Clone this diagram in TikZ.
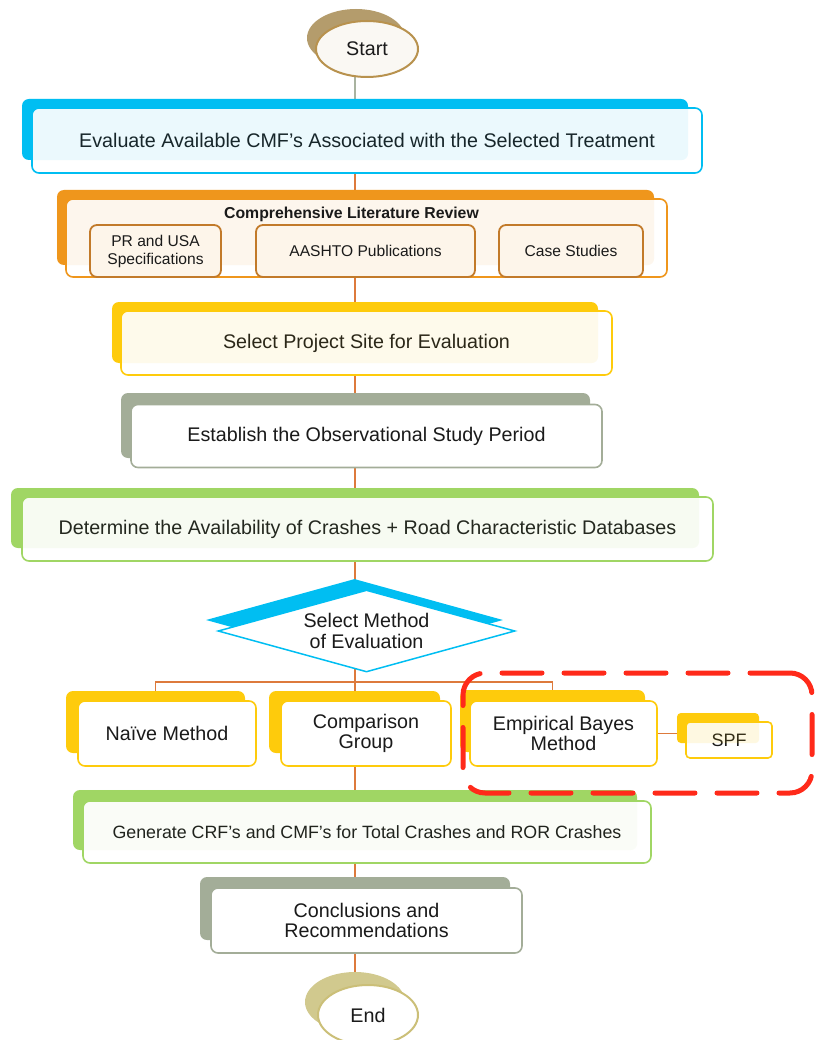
\documentclass[tikz,border=0pt]{standalone}
\usepackage{fontspec}
\setmainfont{Liberation Sans}
\usetikzlibrary{shapes.geometric}
\pgfdeclarelayer{bg}
\pgfsetlayers{bg,main}
\definecolor{cblue}{HTML}{00BEF2}
\definecolor{corange}{HTML}{EF961C}
\definecolor{cyellow}{HTML}{FECB0C}
\definecolor{cgray}{HTML}{A3AD98}
\definecolor{cgreen}{HTML}{A0D664}
\definecolor{ctan}{HTML}{B49C6C}
\definecolor{ctanline}{HTML}{B8924E}
\definecolor{startfill}{HTML}{FAF8F3}
\definecolor{colive}{HTML}{D1C98E}
\definecolor{coliveline}{HTML}{CBBF78}
\definecolor{cline}{HTML}{DD7A3C}
\definecolor{cgline}{HTML}{A9B3A0}
\definecolor{cbrown}{HTML}{C27A2A}
\definecolor{ccream}{HTML}{FDF5EA}
\definecolor{ctext}{HTML}{1A1A1A}
\definecolor{cred}{HTML}{FF2A1A}
\tikzset{
  bk/.style={rounded corners=7pt, fill=#1, inner sep=0pt, draw=none},
  fr/.style={rounded corners=7pt, fill=white, draw=#1, line width=1.6pt, inner sep=0pt, text=ctext, align=center, font=\fontsize{19.7}{20.5}\selectfont},
  tint/.style={fill=#1, fill opacity=0.08, rounded corners=7pt},
  big/.style={font=\fontsize{19.7}{20.5}\selectfont},
  mid/.style={font=\fontsize{17.8}{20}\selectfont},
  subbox/.style={rounded corners=7pt, fill=ccream, draw=cbrown, line width=1.8pt, inner sep=0pt, text=ctext, align=center, font=\fontsize{15.6}{18}\selectfont},
  oline/.style={draw=cline, line width=1.3pt},
  gline/.style={draw=cgline, line width=1.6pt},
}
\begin{document}
\begin{tikzpicture}[x=1pt,y=-1pt]
\useasboundingbox (0,0) rectangle (816,1040);
% Start
\node[ellipse, fill=ctan, inner sep=0pt, minimum width=98pt, minimum height=58pt] (startB) at (356,38) {};
\node[ellipse, fill=startfill, draw=ctanline, line width=2pt, inner sep=0pt, minimum width=102pt, minimum height=56pt, big, text=ctext] (start) at (367,49) {Start};
% Box 1
\node[bk=cblue, minimum width=666pt, minimum height=61pt] (b1B) at (355,129.5) {};
\node[fr=cblue, minimum width=670pt, minimum height=65pt] (b1) at (367,140.5) {Evaluate Available CMF’s Associated with the Selected Treatment};
\fill[tint=cblue] (b1B.north west) rectangle (b1B.south east);
% Box 2
\node[bk=corange, minimum width=597pt, minimum height=75pt] (b2B) at (355.5,227.5) {};
\node[fr=corange, minimum width=601pt, minimum height=78pt] (b2) at (366.5,238) {};
\fill[tint=corange] (b2B.north west) rectangle (b2B.south east);
\node[font=\fontsize{15.8}{18}\selectfont\bfseries, text=ctext, inner sep=0pt] (b2t) at (351.5,214) {Comprehensive Literature Review};
\node[subbox, minimum width=131pt, minimum height=52pt] (s1) at (155.5,251) {PR and USA\\Specifications};
\node[subbox, minimum width=219pt, minimum height=52pt] (s2) at (365.5,251) {AASHTO Publications};
\node[subbox, minimum width=144pt, minimum height=52pt] (s3) at (571,251) {Case Studies};
% Box 3
\node[bk=cyellow, minimum width=486pt, minimum height=61pt] (b3B) at (355,332.5) {};
\node[fr=cyellow, minimum width=491pt, minimum height=64pt] (b3) at (366.5,343) {Select Project Site for Evaluation};
\fill[tint=cyellow] (b3B.north west) rectangle (b3B.south east);
% Box 4
\node[bk=cgray, minimum width=469pt, minimum height=65pt] (b4B) at (355.5,425.5) {};
\node[fr=cgray, minimum width=471pt, minimum height=63pt] (b4) at (366.5,436) {Establish the Observational Study Period};
% Box 5
\node[bk=cgreen, minimum width=688pt, minimum height=60pt] (b5B) at (355,518) {};
\node[fr=cgreen, minimum width=691pt, minimum height=64pt] (b5) at (367.5,529) {Determine the Availability of Crashes + Road Characteristic Databases};
\fill[tint=cgreen] (b5B.north west) rectangle (b5B.south east);
% Diamond
\node[diamond, shape aspect=3.6, fill=cblue, inner sep=0pt, minimum width=297pt, minimum height=82pt] (diaB) at (354.5,620) {};
\node[diamond, shape aspect=3.6, fill=white, draw=cblue, line width=1.5pt, inner sep=0pt, minimum width=297pt, minimum height=82pt, big, align=center, text=ctext] (dia) at (366.5,631) {Select Method\\of Evaluation};
% Methods
\node[bk=cyellow, minimum width=179pt, minimum height=62pt] (m1B) at (155.5,722) {};
\node[fr=cyellow, minimum width=178pt, minimum height=65pt] (m1) at (167,733.5) {Naïve Method};
\node[bk=cyellow, minimum width=171pt, minimum height=62pt] (m2B) at (354.5,722) {};
\node[fr=cyellow, minimum width=170pt, minimum height=65pt] (m2) at (366,733.5) {Comparison\\Group};
\node[bk=cyellow, minimum width=185pt, minimum height=62pt] (m3B) at (552.5,721) {};
\node[fr=cyellow, minimum width=187pt, minimum height=65pt] (m3) at (563.5,733.5) {Empirical Bayes\\Method};
\node[bk=cyellow, minimum width=82pt, minimum height=30pt, rounded corners=4pt] (spfB) at (718,728) {};
\node[fr=cyellow, minimum width=86pt, minimum height=36pt, rounded corners=4pt, font=\fontsize{18}{20}\selectfont] (spf) at (729,740) {SPF};
\fill[tint=cyellow, fill opacity=0.12, rounded corners=4pt] (spfB.north west) rectangle (spfB.south east);
% Generate
\node[bk=cgreen, minimum width=564pt, minimum height=60pt] (b6B) at (355,820) {};
\node[fr=cgreen, minimum width=568pt, minimum height=62pt, mid] (b6) at (367,832) {Generate CRF’s and CMF’s for Total Crashes and ROR Crashes};
\fill[tint=cgreen, fill opacity=0.05] (b6B.north west) rectangle (b6B.south east);
% Conclusions
\node[bk=cgray, minimum width=310pt, minimum height=63pt] (b7B) at (355,908.5) {};
\node[fr=cgray, minimum width=311pt, minimum height=65pt] (b7) at (366.5,920.5) {Conclusions and\\Recommendations};
% End
\node[ellipse, fill=colive, inner sep=0pt, minimum width=100pt, minimum height=60pt] (endB) at (355,1002) {};
\node[ellipse, fill=white, draw=coliveline, line width=2pt, inner sep=0pt, minimum width=100pt, minimum height=60pt, big, text=ctext] (end) at (368,1015) {End};
% Highlight
\node[draw=cred, line width=5pt, dash pattern=on 40pt off 22pt, line cap=round, rounded corners=22pt, inner sep=0pt, minimum width=349pt, minimum height=120pt] (hl) at (637.5,733) {};
% Connectors
\begin{pgfonlayer}{bg}
\coordinate (ax) at (355,0);
\coordinate (br) at (355,682);
\draw[gline] (start.center -| ax) -- (b1B.center -| ax);
\draw[oline] (b1.center -| ax) -- (b2B.center -| ax);
\draw[oline] (b2.center -| ax) -- (b3B.center -| ax);
\draw[oline] (b3.center -| ax) -- (b4B.center -| ax);
\draw[oline] (b4.center -| ax) -- (b5B.center -| ax);
\draw[oline] (b5.center -| ax) -- (diaB.center -| ax);
\draw[oline] (dia.center -| ax) -- (m2B.center -| ax);
\draw[oline] (m1B.center) -- (m1B.center |- br) -- (m3B.center |- br) -- (m3B.center);
\draw[oline] (m2.center -| ax) -- (b6B.center -| ax);
\draw[oline] (m3.center) -- (spfB.west |- m3.center);
\draw[oline] (b6.center -| ax) -- (b7B.center -| ax);
\draw[oline] (b7.center -| ax) -- (endB.center -| ax);
\end{pgfonlayer}
\end{tikzpicture}
\end{document}
